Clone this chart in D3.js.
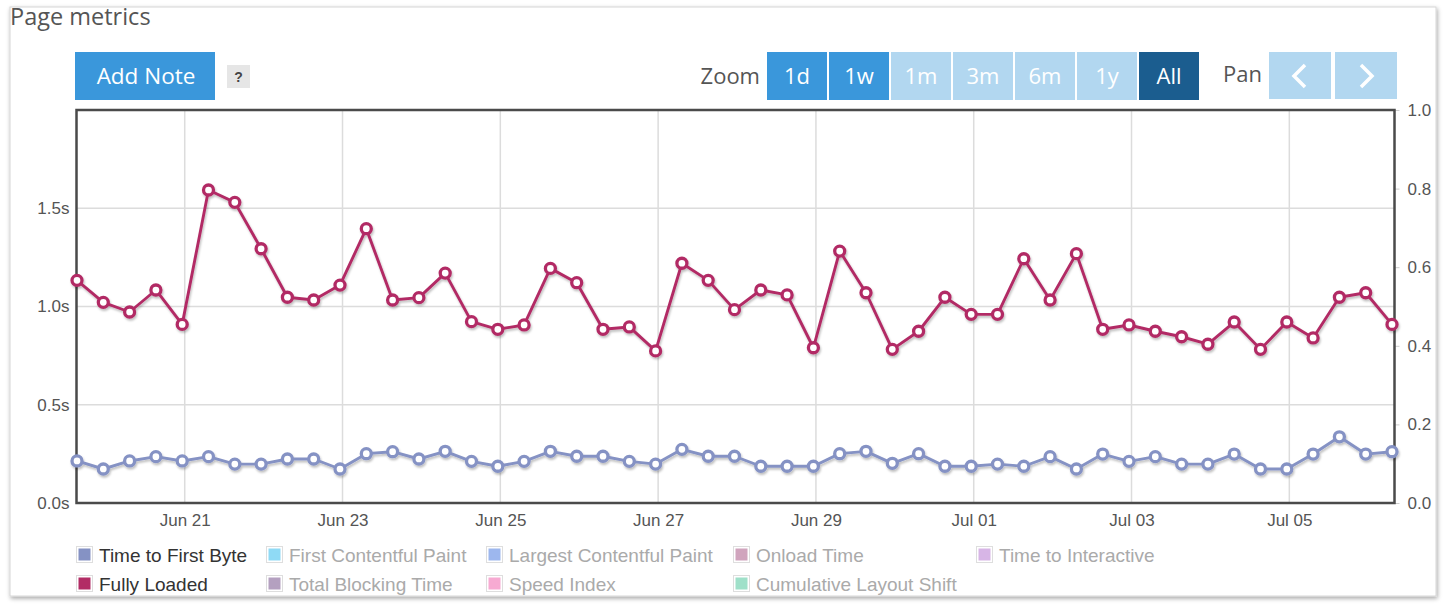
<!DOCTYPE html>
<html><head><meta charset="utf-8">
<script src="https://cdn.jsdelivr.net/npm/d3@7"></script>
<style>
html,body{margin:0;padding:0;background:#fff;}
svg{display:block;}
</style></head>
<body><svg id="chart" width="1445" height="609"></svg>
<script>
// ---------- data ----------
const times = [
 "2023-06-19 15:14","2023-06-19 23:14",
 "2023-06-20 07:14","2023-06-20 15:14","2023-06-20 23:14",
 "2023-06-21 07:14","2023-06-21 15:14","2023-06-21 23:14",
 "2023-06-22 07:14","2023-06-22 15:14","2023-06-22 23:14",
 "2023-06-23 07:14","2023-06-23 15:14","2023-06-23 23:14",
 "2023-06-24 07:14","2023-06-24 15:14","2023-06-24 23:14",
 "2023-06-25 07:14","2023-06-25 15:14","2023-06-25 23:14",
 "2023-06-26 07:14","2023-06-26 15:14","2023-06-26 23:14",
 "2023-06-27 07:14","2023-06-27 15:14","2023-06-27 23:14",
 "2023-06-28 07:14","2023-06-28 15:14","2023-06-28 23:14",
 "2023-06-29 07:14","2023-06-29 15:14","2023-06-29 23:14",
 "2023-06-30 07:14","2023-06-30 15:14","2023-06-30 23:14",
 "2023-07-01 07:14","2023-07-01 15:14","2023-07-01 23:14",
 "2023-07-02 07:14","2023-07-02 15:14","2023-07-02 23:14",
 "2023-07-03 07:14","2023-07-03 15:14","2023-07-03 23:14",
 "2023-07-04 07:14","2023-07-04 15:14","2023-07-04 23:14",
 "2023-07-05 07:14","2023-07-05 15:14","2023-07-05 23:14",
 "2023-07-06 07:14"
];
const timeToFirstByte = [
 0.214,0.173,0.214,0.236,0.214,0.236,0.198,0.198,0.224,0.224,
 0.173,0.251,0.261,0.224,0.263,0.212,0.187,0.212,0.263,0.238,
 0.238,0.212,0.198,0.273,0.238,0.238,0.187,0.187,0.187,0.251,
 0.263,0.202,0.251,0.187,0.187,0.198,0.187,0.236,0.173,0.249,
 0.212,0.236,0.198,0.198,0.249,0.173,0.173,0.249,0.337,0.249,
 0.261
];
const fullyLoaded = [
 1.133,1.021,0.972,1.084,0.909,1.593,1.530,1.294,1.047,1.033,
 1.109,1.396,1.033,1.045,1.170,0.923,0.884,0.906,1.194,1.121,
 0.884,0.896,0.774,1.220,1.133,0.984,1.084,1.059,0.790,1.282,
 1.070,0.782,0.874,1.047,0.960,0.960,1.243,1.033,1.269,0.884,
 0.906,0.874,0.846,0.808,0.921,0.782,0.921,0.840,1.047,1.070,
 0.909
];
const leftTickValues = [0, 0.5, 1.0, 1.5];
const leftTickLabels = ["0.0s", "0.5s", "1.0s", "1.5s"];
const rightTickValues = [0, 0.2, 0.4, 0.6, 0.8, 1.0];
const xTickDates = ["2023-06-21","2023-06-23","2023-06-25","2023-06-27","2023-06-29","2023-07-01","2023-07-03","2023-07-05"];
const zoomLabels = ["1d","1w","1m","3m","6m","1y","All"];
const legendRow1 = ["Time to First Byte","First Contentful Paint","Largest Contentful Paint","Onload Time","Time to Interactive"];
const legendRow2 = ["Fully Loaded","Total Blocking Time","Speed Index","Cumulative Layout Shift"];
const activeSeries = ["Time to First Byte","Fully Loaded"];

// ---------- styles ----------
const seriesColors = {
 "Time to First Byte":"#8592c4","First Contentful Paint":"#8fdaf5","Largest Contentful Paint":"#9db7ee",
 "Onload Time":"#d0a4bd","Time to Interactive":"#d7b5e6","Fully Loaded":"#b22c65",
 "Total Blocking Time":"#b4a0c0","Speed Index":"#f7aad2","Cumulative Layout Shift":"#9fe0c9"
};
const zoomStyles = ["#3a97db","#3a97db","#b2d7f0","#b2d7f0","#b2d7f0","#b2d7f0","#1b5d8f"];
const uiFont = "'Open Sans', 'Noto Sans', sans-serif";
const axisFont = "'Liberation Sans', Arial, sans-serif";

const svg = d3.select("#chart");
const defs = svg.append("defs");
const cardShadow = defs.append("filter").attr("id","cardShadow").attr("x","-5%").attr("y","-5%").attr("width","110%").attr("height","110%");
cardShadow.append("feDropShadow").attr("dx",1).attr("dy",2).attr("stdDeviation",2).attr("flood-color","#000").attr("flood-opacity",0.35);
const lineShadow = defs.append("filter").attr("id","lineShadow").attr("x","-5%").attr("y","-20%").attr("width","110%").attr("height","140%");
lineShadow.append("feDropShadow").attr("dx",1).attr("dy",2).attr("stdDeviation",1.2).attr("flood-color","#000").attr("flood-opacity",0.25);

// card
svg.append("rect").attr("x",10).attr("y",7).attr("width",1426).attr("height",589)
  .attr("fill","#fff").attr("stroke","#d6d6d6").attr("filter","url(#cardShadow)");

// title
svg.append("text").attr("x",10).attr("y",25).attr("font-family",uiFont).attr("font-size",23.5)
  .attr("fill","#555").text("Page metrics");

// Add Note button
svg.append("rect").attr("x",75).attr("y",52).attr("width",140).attr("height",48).attr("fill","#3a97db");
svg.append("text").attr("x",146).attr("y",84).attr("text-anchor","middle").attr("font-family",uiFont)
  .attr("font-size",22.5).attr("fill","#fff").text("Add Note");
svg.append("rect").attr("x",227).attr("y",65).attr("width",23).attr("height",23).attr("fill","#e6e6e6");
svg.append("text").attr("x",238.5).attr("y",82).attr("text-anchor","middle").attr("font-family",axisFont)
  .attr("font-weight","bold").attr("font-size",14).attr("fill","#444").text("?");

// Zoom
svg.append("text").attr("x",760).attr("y",84).attr("text-anchor","end").attr("font-family",uiFont)
  .attr("font-size",22).attr("fill","#555").text("Zoom");
const zb = svg.append("g").selectAll("g").data(zoomLabels).join("g")
  .attr("transform",(d,i)=>`translate(${767 + i*62},52)`);
zb.append("rect").attr("width",60).attr("height",48).attr("fill",(d,i)=>zoomStyles[i]);
zb.append("text").attr("x",30).attr("y",32).attr("text-anchor","middle").attr("font-family",uiFont)
  .attr("font-size",22).attr("fill","#fff").text(d=>d);

// Pan
svg.append("text").attr("x",1223).attr("y",82).attr("font-family",uiFont)
  .attr("font-size",22).attr("fill","#555").text("Pan");
[["<",1269],[">",1335]].forEach(([dir,x])=>{
  svg.append("rect").attr("x",x).attr("y",52).attr("width",62).attr("height",47).attr("fill","#b2d7f0");
  const cx = x+31, cy = 76;
  const p = dir==="<" ? `M${cx+5},${cy-11} L${cx-6},${cy} L${cx+5},${cy+11}` : `M${cx-5},${cy-11} L${cx+6},${cy} L${cx-5},${cy+11}`;
  svg.append("path").attr("d",p).attr("fill","none").attr("stroke","#fff").attr("stroke-width",3.5);
});

// ---------- scales ----------
const parseT = d3.timeParse("%Y-%m-%d %H:%M");
const parseD = d3.timeParse("%Y-%m-%d");
const tDates = times.map(parseT);
const x = d3.scaleTime().domain([tDates[0], tDates[tDates.length-1]]).range([77, 1392]);
const yL = d3.scaleLinear().domain([0, 2]).range([503, 110]);
const yR = d3.scaleLinear().domain([0, 1]).range([503, 110]);
const plotL = 76.5, plotR = 1394.5, plotT = 110, plotB = 503;

// grid
const grid = svg.append("g");
grid.selectAll(".vg").data(xTickDates.map(parseD)).join("line")
  .attr("x1",d=>x(d)).attr("x2",d=>x(d)).attr("y1",plotT).attr("y2",plotB)
  .attr("stroke","#dcdcdc").attr("stroke-width",1.5);
grid.selectAll(".hg").data(leftTickValues.filter(v=>v>0)).join("line")
  .attr("x1",plotL).attr("x2",plotR).attr("y1",d=>yL(d)).attr("y2",d=>yL(d))
  .attr("stroke","#dcdcdc").attr("stroke-width",1.5);

// axes
const xAxis = d3.axisBottom(x).tickValues(xTickDates.map(parseD)).tickFormat(d3.timeFormat("%b %d")).tickSize(0).tickPadding(11);
const gx = svg.append("g").attr("transform",`translate(0,${plotB})`).call(xAxis);
const yAxisL = d3.axisLeft(yL).tickValues(leftTickValues).tickFormat((d,i)=>leftTickLabels[i]).tickSize(0).tickPadding(7);
const gyl = svg.append("g").attr("transform",`translate(${plotL},0)`).call(yAxisL);
const yAxisR = d3.axisRight(yR).tickValues(rightTickValues).tickFormat(d3.format(".1f")).tickSize(5).tickPadding(8);
const gyr = svg.append("g").attr("transform",`translate(${plotR},0)`).call(yAxisR);
[gx,gyl,gyr].forEach(g=>{
  g.select(".domain").remove();
  g.selectAll("text").attr("font-family",axisFont).attr("font-size",17).attr("fill","#555");
  g.selectAll("line").attr("stroke","#ccc");
});

// frame
svg.append("rect").attr("x",plotL).attr("y",plotT).attr("width",plotR-plotL).attr("height",plotB-plotT)
  .attr("fill","none").attr("stroke","#4a4a4a").attr("stroke-width",2.5);

// ---------- series ----------
function drawSeries(values, color){
  const data = values.map((v,i)=>({t:tDates[i], v}));
  const g = svg.append("g").attr("filter","url(#lineShadow)");
  g.append("path").datum(data)
    .attr("d", d3.line().x(d=>x(d.t)).y(d=>yL(d.v)))
    .attr("fill","none").attr("stroke",color).attr("stroke-width",2.9).attr("stroke-linejoin","round");
  g.selectAll("circle").data(data).join("circle")
    .attr("cx",d=>x(d.t)).attr("cy",d=>yL(d.v)).attr("r",5)
    .attr("fill","#fff").attr("stroke",color).attr("stroke-width",3.3);
}
drawSeries(timeToFirstByte, seriesColors["Time to First Byte"]);
drawSeries(fullyLoaded, seriesColors["Fully Loaded"]);

// ---------- legend ----------
const legendColX = [76, 266, 486, 733, 976];
const legendRowY = [555, 584];
[legendRow1, legendRow2].forEach((row, r)=>{
  row.forEach((name, c)=>{
    const gx0 = legendColX[c], gy0 = legendRowY[r];
    const active = activeSeries.includes(name);
    svg.append("rect").attr("x",gx0+0.5).attr("y",gy0-8.5).attr("width",16).attr("height",16)
      .attr("fill","#fff").attr("stroke","#dedede");
    svg.append("rect").attr("x",gx0+2.5).attr("y",gy0-6.5).attr("width",12).attr("height",12)
      .attr("fill",seriesColors[name]);
    svg.append("text").attr("x",gx0+23).attr("y",gy0+7).attr("font-family",axisFont).attr("font-size",19)
      .attr("fill",active ? "#333" : "#aaa").text(name);
  });
});
</script>
</body></html>
